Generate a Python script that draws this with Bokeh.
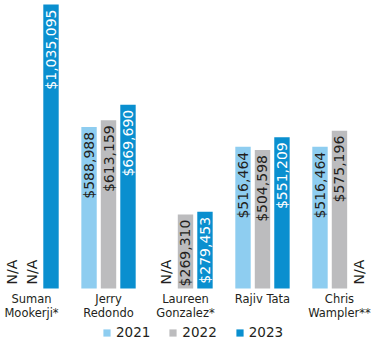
import math
from bokeh.plotting import figure
from bokeh.models import ColumnDataSource, Range1d, Legend, LegendItem
from bokeh.core.properties import value
from bokeh.transform import dodge
from bokeh.embed import file_html
from bokeh.resources import INLINE

categories = ["Suman\nMookerji*", "Jerry\nRedondo", "Laureen\nGonzalez*", "Rajiv Tata", "Chris\nWampler**"]
years = ["2021", "2022", "2023"]
v2021 = [None, 588988, None, 516464, 516464]
v2022 = [None, 613159, 269310, 504598, 575196]
v2023 = [1035095, 669690, 279453, 551209, None]
colors = ["#8ECDF0", "#BCBCBE", "#0A8FCF"]
label_colors = ["#231F20", "#231F20", "#FFFFFF"]

FONT = "DejaVu Sans"

idx = list(range(len(categories)))

p = figure(width=372, height=341, output_backend="svg", toolbar_location=None,
           x_range=Range1d(-0.403, 4.429), y_range=Range1d(-193170, 1049700),
           min_border=0, outline_line_color=None)
p.axis.visible = False
p.grid.visible = False
p.background_fill_color = "white"

offsets = [-0.253, 0.0, 0.253]
series = [v2021, v2022, v2023]
renderers = []
for yr, vals, col, lc, off in zip(years, series, colors, label_colors, offsets):
    have = [i for i, v in enumerate(vals) if v is not None]
    missing = [i for i, v in enumerate(vals) if v is None]
    src = ColumnDataSource(dict(
        x=[idx[i] for i in have],
        top=[vals[i] for i in have],
        lab=["${:,}".format(vals[i]) for i in have],
    ))
    r = p.vbar(x=dodge("x", off, range=p.x_range), top="top", width=0.2, bottom=0,
               source=src, fill_color=col, line_color=None)
    renderers.append(r)
    p.text(x=dodge("x", off, range=p.x_range), y="top", text="lab", source=src,
           angle=math.pi / 2, text_align="right", text_baseline="middle",
           y_offset=5, text_color=lc, text_font=value(FONT), text_font_size="14px")
    nsrc = ColumnDataSource(dict(x=[idx[i] for i in missing], y=[0] * len(missing),
                                 lab=["N/A"] * len(missing)))
    p.text(x=dodge("x", off, range=p.x_range), y="y", text="lab", source=nsrc,
           angle=math.pi / 2, text_align="left", text_baseline="middle",
           y_offset=-4, text_color="#231F20", text_font=value(FONT), text_font_size="14px")

csrc = ColumnDataSource(dict(x=idx, y=[0] * len(idx), lab=categories))
p.text(x="x", y="y", text="lab", source=csrc, text_align="center", text_baseline="top",
       y_offset=3, text_color="#231F20", text_font=value(FONT), text_font_size="11.5px",
       text_line_height=1.05)

legend = Legend(items=[LegendItem(label=y, renderers=[r]) for y, r in zip(years, renderers)],
                orientation="horizontal", location=(102, 1), glyph_width=9, glyph_height=9,
                label_standoff=5, spacing=18, padding=0, margin=0, label_height=10,
                border_line_color=None, background_fill_alpha=0,
                label_text_font=FONT, label_text_font_size="13.5px", label_text_color="#231F20")
p.add_layout(legend, "center")

open("out.html", "w").write(file_html(p, INLINE))
